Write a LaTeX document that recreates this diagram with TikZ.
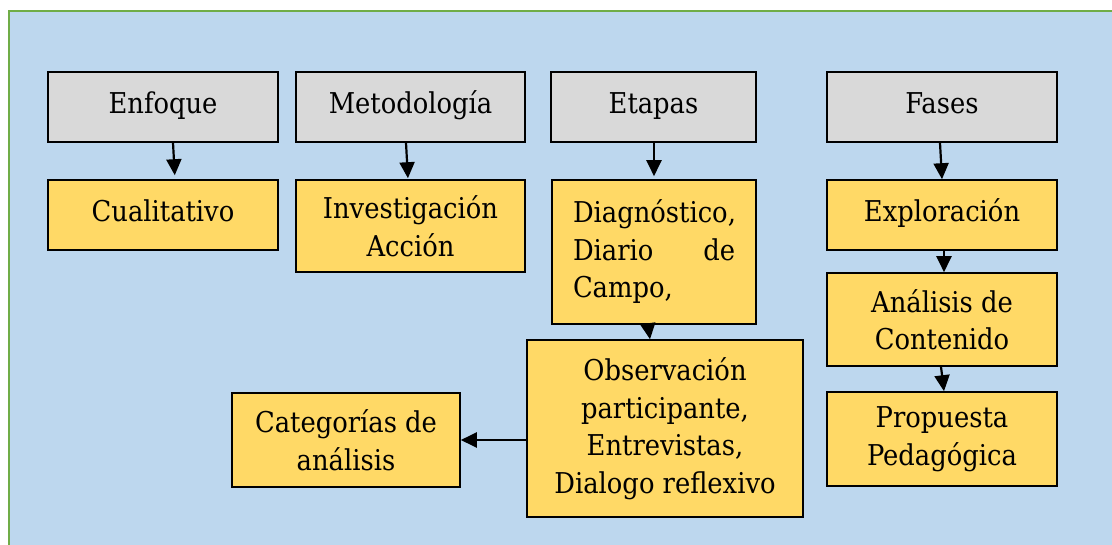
\documentclass[tikz,border=0pt]{standalone}
\usepackage{fontspec}
\IfFontExistsTF{DejaVu Serif Condensed}
  {\setmainfont{DejaVu Serif Condensed}[Scale=0.91]}
  {\setmainfont{DejaVu Serif}[Scale=0.84]}
\usetikzlibrary{arrows.meta}
\definecolor{panel}{HTML}{BDD7EE}
\definecolor{frame}{HTML}{70AD47}
\definecolor{boxyellow}{HTML}{FFD966}
\definecolor{boxgray}{HTML}{D9D9D9}
\tikzset{
  head/.style={draw, line width=1.6pt, fill=boxgray, inner sep=0pt, minimum height=70pt, oneline},
  item/.style={draw, line width=1.6pt, fill=boxyellow, inner sep=0pt, align=center},
  oneline/.style={text height=21pt, text depth=9pt},
  link/.style={line width=2.2pt, -{Triangle[length=16pt,width=15pt]}},
}

\begin{document}
\begin{tikzpicture}[x=1pt, y=-1pt, font=\fontsize{31.5}{37.5}\selectfont]

\useasboundingbox (0,0) rectangle (1112,544);
\draw[fill=panel, draw=frame, line width=2.2pt] (9,11) rectangle (1124,560);

% encabezados
\node[head, minimum width=230pt] (enfoque) at (163,107) {Enfoque};
\node[head, minimum width=229pt] (metodo) at (410.5,107) {Metodología};
\node[head, minimum width=205pt] (etapas) at (653.5,107) {Etapas};
\node[head, minimum width=230pt] (fases) at (942,107) {Fases};

% contenidos
\node[item, oneline, minimum width=230pt, minimum height=70pt] (cualitativo) at (163,215) {Cualitativo};
\node[item, minimum width=229pt, minimum height=92pt] (investigacion) at (410.5,226) {Investigación\\Acción};
\node[item, minimum width=204pt, minimum height=144pt, text width=162pt, align=left] (diag) at (654,252)
     {Diagnóstico,\\\makebox[162pt][s]{Diario\hfill de}\\Campo,};
\node[item, minimum width=276pt, minimum height=177pt] (obs) at (665,428.5)
     {Observación\\participante,\\Entrevistas,\\Dialogo reflexivo};
\node[item, minimum width=228pt, minimum height=94pt] (cat) at (346,440) {Categorías de\\análisis};
\node[item, oneline, minimum width=230pt, minimum height=70pt] (explora) at (942,215) {Exploración};
\node[item, minimum width=230pt, minimum height=93pt] (analisis) at (942,319.5) {Análisis de\\Contenido};
\node[item, minimum width=230pt, minimum height=94pt] (propuesta) at (942,439) {Propuesta\\Pedagógica};

% flechas
\draw[link, shorten >=4pt] ([xshift=10pt]enfoque.south) -- ([xshift=12pt]cualitativo.north);
\draw[link, shorten >=1pt] ([xshift=-4.5pt]metodo.south) -- ([xshift=-2.5pt]investigacion.north);
\draw[link, shorten >=3pt] ([xshift=0.5pt]etapas.south) -- ([xshift=0pt]diag.north);
\draw[link] ([xshift=-2pt]fases.south) -- ([xshift=0pt]explora.north);
\draw[link] ([xshift=-6pt]diag.south) -- ([xshift=-15pt]obs.north);
\draw[link] ([xshift=2pt]explora.south) -- ([xshift=2pt]analisis.north);
\draw[link] ([xshift=-1pt]analisis.south) -- ([xshift=2pt]propuesta.north);
\draw[link] (obs.west |- cat.east) -- (cat.east);

\end{tikzpicture}
\end{document}
